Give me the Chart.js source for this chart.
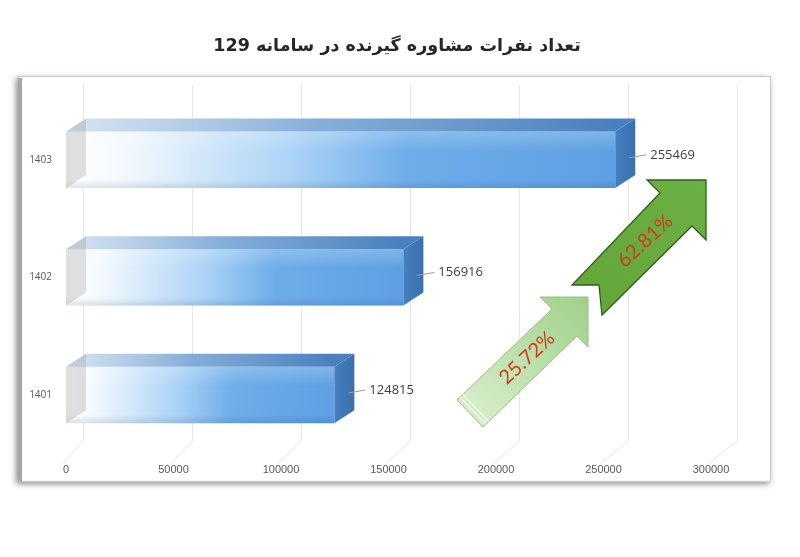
<!DOCTYPE html>
<html>
<head>
<meta charset="utf-8">
<script src="https://cdn.jsdelivr.net/npm/chart.js@4.4.0/dist/chart.umd.min.js"></script>
<style>
  html, body { margin: 0; padding: 0; background: #fff; }
  #wrap { width: 800px; height: 557px; }
</style>
</head>
<body>
<div id="wrap"><canvas id="chart" width="800" height="557"></canvas></div>
<script>
// داده‌ها
var years = ['1401', '1402', '1403'];
var counts = [124815, 156916, 255469];
var xTicks = [0, 50000, 100000, 150000, 200000, 250000, 300000];
var titleText = 'تعداد نفرات مشاوره گیرنده در سامانه 129';

// رشد سالانه (از روی همین داده‌ها)
var growth = [];
for (var i = 1; i < counts.length; i++) {
  growth.push(((counts[i] - counts[i - 1]) / counts[i - 1] * 100).toFixed(2) + '%');
}

var DX = 20, DY = 13; // عمق سه‌بعدی میله‌ها

function poly(ctx, pts, fill, stroke, lw) {
  ctx.beginPath();
  ctx.moveTo(pts[0][0], pts[0][1]);
  for (var k = 1; k < pts.length; k++) ctx.lineTo(pts[k][0], pts[k][1]);
  ctx.closePath();
  if (fill) { ctx.fillStyle = fill; ctx.fill(); }
  if (stroke) { ctx.strokeStyle = stroke; ctx.lineWidth = lw || 1; ctx.stroke(); }
}

// قاب، عنوان و خطوط شبکه پشتی
var framePlugin = {
  id: 'frame',
  beforeDraw: function(chart) {
    var ctx = chart.ctx, ca = chart.chartArea;
    var l = ca.left - 48, t = ca.top - 25, r = ca.right + 60, b = ca.bottom + 28;
    ctx.save();
    ctx.shadowColor = 'rgba(0,0,0,0.45)';
    ctx.shadowBlur = 6;
    ctx.shadowOffsetX = -2;
    ctx.shadowOffsetY = 2;
    ctx.fillStyle = '#fff';
    ctx.fillRect(l, t, r - l, b - t);
    ctx.restore();
    ctx.save();
    ctx.strokeStyle = '#c8c8c8';
    ctx.lineWidth = 1;
    ctx.strokeRect(l + 0.5, t + 0.5, r - l - 1, b - t - 1);
    ctx.fillStyle = '#a6a6a6';
    ctx.fillRect(l, t + 2, 4, b - t - 2);

    // عنوان
    ctx.fillStyle = '#262626';
    ctx.font = 'bold 17.5px "DejaVu Sans", sans-serif';
    ctx.textAlign = 'center';
    ctx.textBaseline = 'middle';
    ctx.fillText(titleText, chart.width / 2 - 3, ca.top - 55);
    ctx.restore();
  },
  beforeDatasetsDraw: function(chart) {
    var ctx = chart.ctx, ca = chart.chartArea, xs = chart.scales.x;
    ctx.save();
    ctx.strokeStyle = '#e6e6e6';
    ctx.lineWidth = 1;
    xTicks.forEach(function(v) {
      var xf = xs.getPixelForValue(v);
      var xb = Math.round(xf + 17 + v / 300000 * 9) + 0.5;
      ctx.beginPath();
      ctx.moveTo(xb, ca.top - 16);
      ctx.lineTo(xb, ca.bottom - 13);
      ctx.lineTo(xf - 3, ca.bottom + 10);
      ctx.stroke();
    });
    ctx.restore();
  }
};

// وجه‌های سه‌بعدی، برچسب مقادیر و فلش‌های رشد
var bars3dPlugin = {
  id: 'bars3d',
  afterDatasetsDraw: function(chart) {
    var ctx = chart.ctx, ca = chart.chartArea;
    var meta = chart.getDatasetMeta(0);
    var vals = chart.data.datasets[0].data;
    ctx.save();
    meta.data.forEach(function(bar, i) {
      var x0 = bar.base, x1 = bar.x;
      var yt = bar.y - bar.height / 2, yb = bar.y + bar.height / 2;

      // براقیت وجه جلو
      var gl = ctx.createLinearGradient(0, yt, 0, yb);
      gl.addColorStop(0, 'rgba(255,255,255,0.22)');
      gl.addColorStop(0.35, 'rgba(255,255,255,0.0)');
      gl.addColorStop(0.85, 'rgba(0,40,90,0.0)');
      gl.addColorStop(1, 'rgba(0,40,90,0.12)');
      ctx.fillStyle = gl;
      ctx.fillRect(x0, yt, x1 - x0, yb - yt);

      // وجه بالا
      var gt = ctx.createLinearGradient(x0, 0, x1, 0);
      gt.addColorStop(0, 'rgba(200,218,236,0.75)');
      gt.addColorStop(0.45, '#86afd9');
      gt.addColorStop(1, '#4a80bf');
      poly(ctx, [[x0, yt], [x1, yt], [x1 + DX, yt - DY], [x0 + DX, yt - DY]], gt);

      // وجه راست
      var gr = ctx.createLinearGradient(x1, 0, x1 + DX, 0);
      gr.addColorStop(0, '#4680c0');
      gr.addColorStop(1, '#3a70ad');
      poly(ctx, [[x1, yt], [x1 + DX, yt - DY], [x1 + DX, yb - DY], [x1, yb]], gr);

      // وجه چپ (خاکستری)
      poly(ctx, [[x0, yt], [x0 + DX, yt - DY], [x0 + DX, yb - DY], [x0, yb]], 'rgba(165,165,165,0.35)');

      // برچسب مقدار
      var ly = bar.y - 5;
      ctx.strokeStyle = '#a0a0a0';
      ctx.lineWidth = 1;
      ctx.beginPath();
      ctx.moveTo(x1 + DX - 6, ly + 3);
      ctx.lineTo(x1 + 31, ly);
      ctx.stroke();
      ctx.fillStyle = '#404040';
      ctx.font = '13px "Open Sans", sans-serif';
      ctx.textAlign = 'left';
      ctx.textBaseline = 'middle';
      ctx.fillText(String(vals[i]), x1 + 35, ly);
    });

    // فلش‌ها
    var base = [ca.left, ca.top];
    drawArrow(ctx, [base[0] + 522, base[1] + 196],
      [[-48, 0], [-36, 12], [-131, 103], [-105, 130], [-11, 39], [0, 50]],
      ['#d9eecd', '#9fd089'], '#92c47c', 1, growth[0], true);
    drawArrow(ctx, [base[0] + 640, base[1] + 79],
      [[-59, 0], [-46, 13], [-134, 105], [-107, 105], [-104, 135], [-14, 46], [0, 60]],
      ['#63a63a', '#6cb043'], '#2f5f1c', 1.3, growth[1], false);
    ctx.restore();
  }
};

function drawArrow(ctx, tip, rel, cols, stroke, lw, label, striped) {
  var pts = [[0, 0]].concat(rel).map(function(p) { return [tip[0] + p[0], tip[1] + p[1]]; });
  var g = ctx.createLinearGradient(tip[0] - 120, tip[1] + 120, tip[0], tip[1]);
  g.addColorStop(0, cols[0]);
  g.addColorStop(1, cols[1]);
  poly(ctx, pts, g, stroke, lw);
  if (striped) {
    // خطوط انتهای دم
    var ut = pts[3], lt = pts[4];
    ctx.strokeStyle = '#f4fbef';
    ctx.lineWidth = 1.2;
    [4, 8].forEach(function(o) {
      ctx.beginPath();
      ctx.moveTo(ut[0] + o * 0.707, ut[1] - o * 0.707);
      ctx.lineTo(lt[0] + o * 0.707, lt[1] - o * 0.707);
      ctx.stroke();
    });
  }
  ctx.save();
  ctx.translate(tip[0] - 61, tip[1] + 61);
  ctx.rotate(-43 * Math.PI / 180);
  ctx.fillStyle = '#d13b1c';
  ctx.font = '20px Lato, "Open Sans", sans-serif';
  ctx.textAlign = 'center';
  ctx.textBaseline = 'middle';
  ctx.fillText(label, 0, 0);
  ctx.restore();
}

new Chart(document.getElementById('chart'), {
  type: 'bar',
  data: {
    labels: years,
    datasets: [{
      data: counts,
      borderWidth: 0,
      barPercentage: 0.48,
      categoryPercentage: 1,
      backgroundColor: function(c) {
        var chart = c.chart;
        if (!chart.chartArea) return '#5fa2e6';
        var xs = chart.scales.x;
        var x0 = xs.getPixelForValue(0), x1 = xs.getPixelForValue(c.raw);
        var g = chart.ctx.createLinearGradient(x0, 0, x1, 0);
        g.addColorStop(0, '#ffffff');
        g.addColorStop(0.1, '#f4f9fe');
        g.addColorStop(0.42, '#a9d1f5');
        g.addColorStop(0.62, '#6dade9');
        g.addColorStop(1, '#5d9fe2');
        return g;
      }
    }]
  },
  options: {
    indexAxis: 'y',
    responsive: false,
    animation: false,
    layout: { padding: { left: 18, right: 89, top: 101, bottom: 70 } },
    plugins: {
      legend: { display: false },
      tooltip: { enabled: false },
      title: { display: false }
    },
    scales: {
      x: {
        min: 0,
        max: 300000,
        grid: { display: false, drawTicks: false },
        border: { display: false },
        afterBuildTicks: function(s) { s.ticks = xTicks.map(function(v) { return { value: v }; }); },
        ticks: {
          padding: 10,
          color: '#595959',
          font: { family: '"Liberation Sans Narrow", "Liberation Sans", sans-serif', size: 11 },
          maxRotation: 0,
          callback: function(v) { return String(v); }
        }
      },
      y: {
        reverse: true,
        grid: { display: false, drawTicks: false },
        border: { display: false },
        afterFit: function(s) { s.width = 48; },
        ticks: {
          padding: 14,
          color: '#595959',
          font: { family: '"Open Sans", sans-serif', size: 10 }
        }
      }
    }
  },
  plugins: [framePlugin, bars3dPlugin]
});
</script>
</body>
</html>
